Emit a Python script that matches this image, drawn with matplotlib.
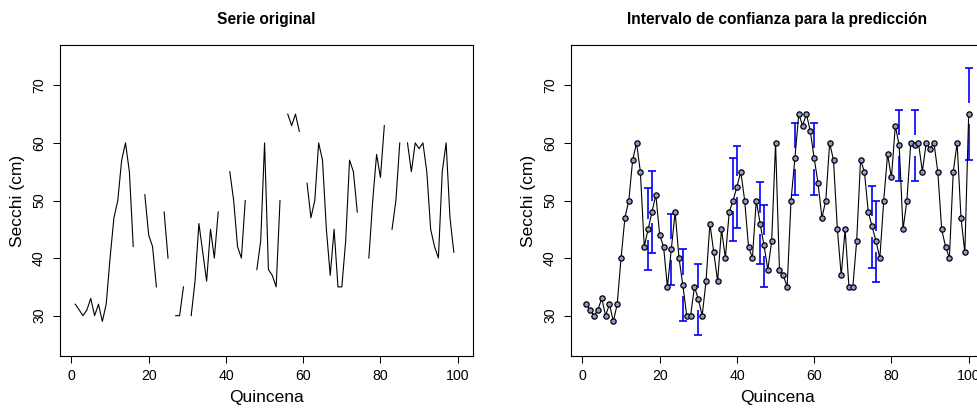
import numpy as np
import matplotlib
matplotlib.use('Agg')
import matplotlib.pyplot as plt

plt.rcParams['font.family'] = ['Liberation Sans', 'DejaVu Sans']

# quincenas 1..100, observed Secchi depth (cm); NaN = missing value
quincena = np.arange(1, 101)
secchi_obs = np.array([
    32, 31, 30, 31, 33, 30, 32, 29, 32, 40,
    47, 50, 57, 60, 55, 42, np.nan, np.nan, 51, 44,
    42, 35, np.nan, 48, 40, np.nan, 30, 30, 35, np.nan,
    30, 36, 46, 41, 36, 45, 40, 48, np.nan, np.nan,
    55, 50, 42, 40, 50, np.nan, np.nan, 38, 43, 60,
    38, 37, 35, 50, np.nan, 65, 63, 65, 62, np.nan,
    53, 47, 50, 60, 57, 45, 37, 45, 35, 35,
    43, 57, 55, 48, np.nan, np.nan, 40, 50, 58, 54,
    63, np.nan, 45, 50, 60, np.nan, 60, 55, 60, 59,
    60, 55, 45, 42, 40, 55, 60, 47, 41, np.nan,
])

# predictions for the missing quincenas and their confidence limits
pred_x = np.array([17, 18, 23, 26, 30, 39, 40, 46, 47, 55, 60, 75, 76, 82, 86, 100])
pred_y = np.array([45.0, 48.0, 41.5, 35.3, 32.9, 50.0, 52.4, 46.0, 42.2,
                   57.3, 57.3, 45.5, 42.9, 59.6, 59.6, 65.1])
pred_lo = np.array([37.9, 40.9, 35.3, 29.1, 26.6, 42.9, 45.3, 39.0, 35.0,
                    50.9, 50.9, 38.3, 35.8, 53.4, 53.4, 57.1])
pred_hi = np.array([52.2, 55.1, 47.7, 41.5, 39.0, 57.3, 59.4, 53.2, 49.2,
                    63.5, 63.5, 52.6, 50.0, 65.8, 65.8, 73.0])

secchi_full = secchi_obs.copy()
secchi_full[pred_x - 1] = pred_y

W, H = 978, 411
fig = plt.figure(figsize=(W / 100, H / 100), dpi=100)

ax1 = fig.add_axes([60 / W, 1 - 356 / H, 413 / W, 311 / H])
ax2 = fig.add_axes([571 / W, 1 - 356 / H, 413 / W, 311 / H])

ylim = (23.0, 77.0)
xlim = (-2.96, 103.96)


def style(ax, title):
    ax.set_xlim(*xlim)
    ax.set_ylim(*ylim)
    ax.set_xticks([0, 20, 40, 60, 80, 100])
    ax.set_yticks([30, 40, 50, 60, 70])
    ax.tick_params(direction='out', length=5, width=0.75, labelsize=10.2, pad=4)
    ax.tick_params(axis='y', pad=5)
    for lab in ax.get_yticklabels():
        lab.set_rotation(90)
        lab.set_va('center')
    for sp in ax.spines.values():
        sp.set_linewidth(0.8)
    ax.set_xlabel('Quincena', fontsize=12.5, labelpad=5.5)
    ax.set_ylabel('Secchi (cm)', fontsize=12.5, labelpad=5)
    ax.set_title(title, fontsize=11.2, fontweight='bold', pad=15)


# left: original series with gaps
ax1.plot(quincena, secchi_obs, color='black', lw=0.8)
style(ax1, 'Serie original')

# right: filled series plus confidence intervals for the predictions
ax2.plot(quincena, secchi_full, color='black', lw=0.8, marker='o', ms=3.8,
         mfc='#9098d0', mec='black', mew=0.9, zorder=3)
gap = 1.85  # gap around the point, in cm
ax2.vlines(pred_x, pred_lo, pred_y - gap, color='#0000ff', lw=1.2, zorder=2)
ax2.vlines(pred_x, pred_y + gap, pred_hi, color='#0000ff', lw=1.2, zorder=2)
ax2.plot(pred_x, pred_lo, ls='none', marker='_', ms=6, mew=1.2, color='#0000ff', zorder=2)
ax2.plot(pred_x, pred_hi, ls='none', marker='_', ms=6, mew=1.2, color='#0000ff', zorder=2)
style(ax2, 'Intervalo de confianza para la predicción')

fig.savefig('out.png', dpi=100)
